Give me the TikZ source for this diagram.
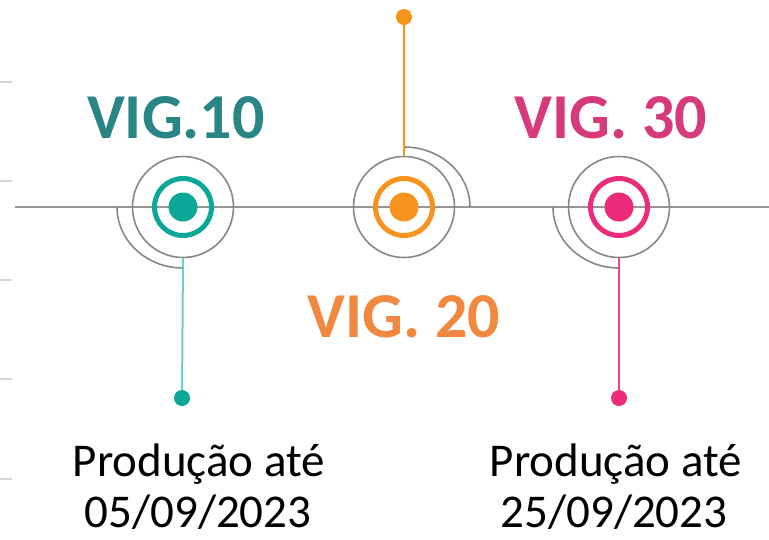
\documentclass[tikz,border=0pt]{standalone}
\usepackage{fontspec}
\setmainfont{Carlito}
\definecolor{tealtxt}{RGB}{42,133,133}
\definecolor{tealc}{RGB}{11,168,154}
\definecolor{teall}{RGB}{110,205,196}
\definecolor{orgtxt}{RGB}{240,136,64}
\definecolor{orgc}{RGB}{247,148,29}
\definecolor{pnktxt}{RGB}{214,58,123}
\definecolor{pnkc}{RGB}{236,44,122}
\definecolor{pnkl}{RGB}{236,70,135}
\definecolor{gline}{RGB}{150,150,150}
\definecolor{gcirc}{RGB}{135,135,135}
\definecolor{tick}{RGB}{215,215,215}
\tikzset{
  ring/.style={circle, draw=#1, line width=5pt, minimum size=57pt, inner sep=0pt},
  core/.style={circle, fill=#1, minimum size=29pt, inner sep=0pt},
  halo/.style={circle, draw=gcirc, line width=1.6pt, minimum size=101pt, inner sep=0pt},
  pin/.style={circle, fill=#1, minimum size=16pt, inner sep=0pt},
  vig/.style={font=\fontsize{64}{64}\selectfont\bfseries, text=#1, anchor=base, inner sep=0pt},
  prod/.style={font=\fontsize{47}{54}\selectfont, anchor=base, inner sep=0pt},
  arcl/.style={draw=gcirc, line width=1.6pt},
  stem/.style={line width=2pt, draw=#1},
  ticks/.style={draw=tick, line width=1.2pt}
}
\begin{document}
\begin{tikzpicture}[x=1pt,y=-1pt]
\useasboundingbox (0,0) rectangle (769,539);
% left ticks
\foreach \yy in {82,181,280,379,479} \draw[ticks] (0,\yy) -- (12,\yy);
% main line
\coordinate (L) at (15,207);
\coordinate (R) at (769,207);
\draw[draw=gline, line width=2pt] (L) -- (R);
% node 1
\node[halo] (h1) at (183,207) {};
\node[ring=tealc] (r1) at (183,207) {};
\node[core=tealc] (c1) at (183,207) {};
\node[pin=tealc] (p1) at (182,398) {};
\draw[arcl] (117,207) arc[start angle=180, end angle=90, x radius=66, y radius=61];
\draw[stem=teall] (h1.south) -- (p1);
% node 2
\node[halo] (h2) at (404,207) {};
\node[ring=orgc] (r2) at (404,207) {};
\node[core=orgc] (c2) at (404,207) {};
\node[pin=orgc] (p2) at (404,17) {};
\draw[arcl] (404,147) arc[start angle=270, end angle=360, x radius=66, y radius=60];
\draw[stem=orgc] (h2.north) -- (p2);
% node 3
\node[halo] (h3) at (619,207) {};
\node[ring=pnkc] (r3) at (619,207) {};
\node[core=pnkc] (c3) at (619,207) {};
\node[pin=pnkc] (p3) at (619,398) {};
\draw[arcl] (553,207) arc[start angle=180, end angle=90, x radius=66, y radius=61];
\draw[stem=pnkl] (h3.south) -- (p3);
% labels
\node[vig=tealtxt] (t1) at (176,138) {VIG.10};
\node[vig=orgtxt] (t2) at (404,337) {VIG. 20};
\node[vig=pnktxt] (t3) at (611,138) {VIG. 30};
\node[prod] (d1a) at (199,476) {Produção até};
\node[prod] (d1b) at (198,527) {05/09/2023};
\node[prod] (d3a) at (616,476) {Produção até};
\node[prod] (d3b) at (614,527) {25/09/2023};
\end{tikzpicture}
\end{document}
